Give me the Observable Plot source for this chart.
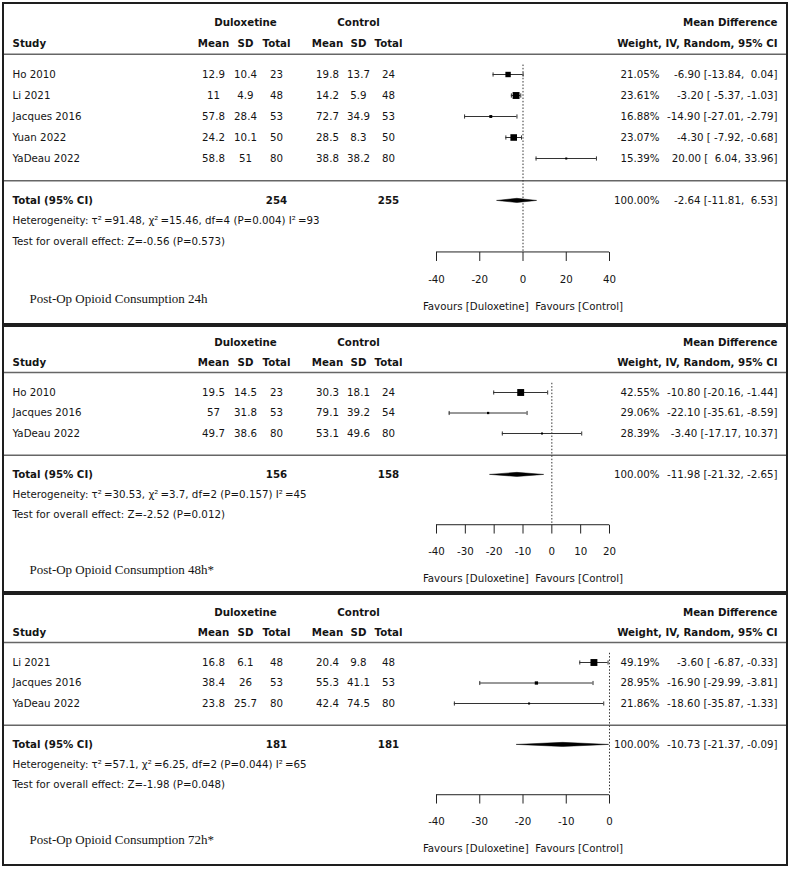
<!DOCTYPE html>
<html><head><meta charset="utf-8">
<script src="https://cdn.jsdelivr.net/npm/d3@7"></script>
<script src="https://cdn.jsdelivr.net/npm/@observablehq/plot@0.6"></script>
<style>
body{margin:0;background:#fff;}
.panel{position:absolute;left:2px;width:782px;border:2px solid #1e1e1e;background:#fff;overflow:hidden;}
.panel svg{display:block;}
.panel svg text{white-space:pre;}
</style></head><body>
<div id="p1" class="panel" style="top:2px;height:319px"></div>
<div id="p2" class="panel" style="top:325px;height:264px"></div>
<div id="p3" class="panel" style="top:593px;height:269px"></div>
<script>
// ---------- Panel 1: 24h ----------
const studies24 = ["Ho 2010", "Li 2021", "Jacques 2016", "Yuan 2022", "YaDeau 2022"];
const duloxMean24 = [12.9, 11, 57.8, 24.2, 58.8];
const duloxSD24 = [10.4, 4.9, 28.4, 10.1, 51];
const duloxN24 = [23, 48, 53, 50, 80];
const ctrlMean24 = [19.8, 14.2, 72.7, 28.5, 38.8];
const ctrlSD24 = [13.7, 5.9, 34.9, 8.3, 38.2];
const ctrlN24 = [24, 48, 53, 50, 80];
const weight24 = [21.05, 23.61, 16.88, 23.07, 15.39];
const md24 = [-6.90, -3.20, -14.90, -4.30, 20.00];
const lo24 = [-13.84, -5.37, -27.01, -7.92, 6.04];
const hi24 = [0.04, -1.03, -2.79, -0.68, 33.96];
const totalN24 = [254, 255];
const totalMD24 = [-2.64, -11.81, 6.53];
const het24 = ["91.48", "15.46", "4", "0.004", "93"];
const effect24 = ["-0.56", "0.573"];
const ticks24 = [-40, -20, 0, 20, 40];
const title24 = "Post-Op Opioid Consumption 24h";

// ---------- Panel 2: 48h ----------
const studies48 = ["Ho 2010", "Jacques 2016", "YaDeau 2022"];
const duloxMean48 = [19.5, 57, 49.7];
const duloxSD48 = [14.5, 31.8, 38.6];
const duloxN48 = [23, 53, 80];
const ctrlMean48 = [30.3, 79.1, 53.1];
const ctrlSD48 = [18.1, 39.2, 49.6];
const ctrlN48 = [24, 54, 80];
const weight48 = [42.55, 29.06, 28.39];
const md48 = [-10.80, -22.10, -3.40];
const lo48 = [-20.16, -35.61, -17.17];
const hi48 = [-1.44, -8.59, 10.37];
const totalN48 = [156, 158];
const totalMD48 = [-11.98, -21.32, -2.65];
const het48 = ["30.53", "3.7", "2", "0.157", "45"];
const effect48 = ["-2.52", "0.012"];
const ticks48 = [-40, -30, -20, -10, 0, 10, 20];
const title48 = "Post-Op Opioid Consumption 48h*";

// ---------- Panel 3: 72h ----------
const studies72 = ["Li 2021", "Jacques 2016", "YaDeau 2022"];
const duloxMean72 = [16.8, 38.4, 23.8];
const duloxSD72 = [6.1, 26, 25.7];
const duloxN72 = [48, 53, 80];
const ctrlMean72 = [20.4, 55.3, 42.4];
const ctrlSD72 = [9.8, 41.1, 74.5];
const ctrlN72 = [48, 53, 80];
const weight72 = [49.19, 28.95, 21.86];
const md72 = [-3.60, -16.90, -18.60];
const lo72 = [-6.87, -29.99, -35.87];
const hi72 = [-0.33, -3.81, -1.33];
const totalN72 = [181, 181];
const totalMD72 = [-10.73, -21.37, -0.09];
const het72 = ["57.1", "6.25", "2", "0.044", "65"];
const effect72 = ["-1.98", "0.048"];
const ticks72 = [-40, -30, -20, -10, 0];
const title72 = "Post-Op Opioid Consumption 72h*";

// ---------- drawing ----------
const W = 782, ML = 432, MR = 177;
const FS = 10.25, FONT = "DejaVu Sans";
const COL = {study: 8, dMean: 209, dSD: 241, dTot: 272, cMean: 323, cSD: 354, cTot: 384, weight: 655, md: 773};

function drawPanel(el, c) {
  const n = c.studies.length, last = n - 1;
  const fmt = v => v.toFixed(2);
  const loW = d3.max([...c.lo, c.totMD[1]], v => fmt(v).length);
  const hiW = d3.max([...c.hi, c.totMD[2]], v => fmt(v).length);
  const mdText = (m, l, h) => `${fmt(m)} [${fmt(l).padStart(loW)}, ${fmt(h).padStart(hiW)}]`;
  const rows = c.studies.map((study, i) => ({
    study, i, dm: c.dm[i], dsd: c.dsd[i], dn: c.dn[i], cm: c.cm[i], csd: c.csd[i], cn: c.cn[i],
    w: c.w[i], md: c.md[i], lo: c.lo[i], hi: c.hi[i]
  }));
  const Y = {dulox: -2.45, head: -1.45, sep1: -0.97, dotTop: -0.45, sep2: last + 1.06, total: last + 2.02,
    het: last + 2.98, test: last + 3.95, axis: last + 4.45, tickLab: last + 5.77, title: last + 6.66, fav: last + 7.06};
  const at = (px, anchor) => ({frameAnchor: "left", dx: px - ML, textAnchor: anchor});
  const T = (data, o) => Plot.text(data, {fontSize: FS, fill: "#141414", ...o});
  const B = {fontWeight: "bold"};
  const [tMd, tLo, tHi] = c.totMD;
  const diamond = [{x: tLo, y1: Y.total, y2: Y.total}, {x: tMd, y1: Y.total - 0.1, y2: Y.total + 0.1}, {x: tHi, y1: Y.total, y2: Y.total}];
  const [xmin, xmax] = d3.extent(c.ticks);
  const sq = "\u00b2\u2009";

  const plot = Plot.plot({
    width: W, height: c.H,
    marginLeft: ML, marginRight: MR, marginTop: 0, marginBottom: 0,
    style: {fontFamily: FONT, fontSize: FS + "px", background: "#fff", overflow: "visible"},
    x: {domain: [xmin, xmax], axis: null},
    y: {type: "linear", domain: [-c.firstRow / c.rowPx, (c.H - c.firstRow) / c.rowPx], range: [0, c.H], axis: null},
    r: {type: "linear", domain: d3.extent(c.w), range: [1.15, 3.9]},
    marks: [
      // separators
      Plot.ruleY([Y.sep1, Y.sep2], {y: d => d, stroke: "#666", strokeWidth: 1.5, insetLeft: -ML, insetRight: -MR}),
      // header
      T(["Duloxetine"], {y: Y.dulox, ...at(COL.dSD, "middle"), ...B}),
      T(["Control"], {y: Y.dulox, ...at(COL.cSD, "middle"), ...B}),
      T(["Mean Difference"], {y: Y.dulox, ...at(COL.md, "end"), ...B}),
      T(["Study"], {y: Y.head, ...at(COL.study, "start"), ...B}),
      T(["Mean"], {y: Y.head, ...at(COL.dMean, "middle"), ...B}),
      T(["SD"], {y: Y.head, ...at(COL.dSD, "middle"), ...B}),
      T(["Total"], {y: Y.head, ...at(COL.dTot, "middle"), ...B}),
      T(["Mean"], {y: Y.head, ...at(COL.cMean, "middle"), ...B}),
      T(["SD"], {y: Y.head, ...at(COL.cSD, "middle"), ...B}),
      T(["Total"], {y: Y.head, ...at(COL.cTot, "middle"), ...B}),
      T(["Weight, IV, Random, 95% CI"], {y: Y.head, ...at(COL.md, "end"), ...B}),
      // study rows
      T(rows, {y: "i", text: "study", ...at(COL.study, "start")}),
      T(rows, {y: "i", text: d => String(d.dm), ...at(COL.dMean, "middle")}),
      T(rows, {y: "i", text: d => String(d.dsd), ...at(COL.dSD, "middle")}),
      T(rows, {y: "i", text: d => String(d.dn), ...at(COL.dTot, "middle")}),
      T(rows, {y: "i", text: d => String(d.cm), ...at(COL.cMean, "middle")}),
      T(rows, {y: "i", text: d => String(d.csd), ...at(COL.cSD, "middle")}),
      T(rows, {y: "i", text: d => String(d.cn), ...at(COL.cTot, "middle")}),
      T(rows, {y: "i", text: d => d.w.toFixed(2) + "%", ...at(COL.weight, "end")}),
      T(rows, {y: "i", text: d => mdText(d.md, d.lo, d.hi), ...at(COL.md, "end")}),
      // total rows
      T(["Total (95% CI)"], {y: Y.total, ...at(COL.study, "start"), ...B}),
      T([String(c.totN[0])], {y: Y.total, ...at(COL.dTot, "middle"), ...B}),
      T([String(c.totN[1])], {y: Y.total, ...at(COL.cTot, "middle"), ...B}),
      T(["100.00%"], {y: Y.total, ...at(COL.weight, "end")}),
      T([mdText(tMd, tLo, tHi)], {y: Y.total, ...at(COL.md, "end")}),
      T([`Heterogeneity: \u03c4${sq}=${c.het[0]}, \u03c7${sq}=${c.het[1]}, df=${c.het[2]} (P=${c.het[3]}) I${sq}=${c.het[4]}`], {y: Y.het, ...at(COL.study, "start")}),
      T([`Test for overall effect: Z=${c.eff[0]} (P=${c.eff[1]})`], {y: Y.test, ...at(COL.study, "start")}),
      T([c.title], {y: Y.title, ...at(25, "start"), fontFamily: "Liberation Serif", fontSize: 13}),
      // zero line
      Plot.ruleX([0], {x: d => d, y1: Y.dotTop, y2: Y.axis, stroke: "#333", strokeWidth: 1, strokeDasharray: "1.5,1.8"}),
      // CIs
      Plot.ruleY(rows, {x1: "lo", x2: "hi", y: "i", stroke: "#333", strokeWidth: 1}),
      Plot.link(rows, {x1: "lo", x2: "lo", y1: d => d.i - 0.1, y2: d => d.i + 0.1, stroke: "#333", strokeWidth: 1}),
      Plot.link(rows, {x1: "hi", x2: "hi", y1: d => d.i - 0.1, y2: d => d.i + 0.1, stroke: "#333", strokeWidth: 1}),
      Plot.dot(rows, {x: "md", y: "i", r: "w", symbol: "square", fill: "#000", stroke: "none"}),
      // pooled diamond
      Plot.areaY(diamond, {x: "x", y1: "y1", y2: "y2", fill: "#000", stroke: "#000", strokeWidth: 0.5}),
      // axis
      Plot.ruleY([Y.axis], {y: d => d, x1: xmin, x2: xmax, stroke: "#222", strokeWidth: 1}),
      Plot.link(c.ticks, {x1: d => d, x2: d => d, y1: Y.axis, y2: Y.axis + 0.43, stroke: "#222", strokeWidth: 1}),
      T(c.ticks, {x: d => d, y: Y.tickLab, text: d => String(d), textAnchor: "middle"}),
      T(["Favours [Duloxetine]  Favours [Control]"], {x: (xmin + xmax) / 2, y: Y.fav, textAnchor: "middle"})
    ]
  });
  document.getElementById(el).appendChild(plot);
}

drawPanel("p1", {studies: studies24, dm: duloxMean24, dsd: duloxSD24, dn: duloxN24, cm: ctrlMean24, csd: ctrlSD24, cn: ctrlN24,
  w: weight24, md: md24, lo: lo24, hi: hi24, totN: totalN24, totMD: totalMD24, het: het24, eff: effect24, ticks: ticks24, title: title24,
  H: 319, firstRow: 70, rowPx: 21});
drawPanel("p2", {studies: studies48, dm: duloxMean48, dsd: duloxSD48, dn: duloxN48, cm: ctrlMean48, csd: ctrlSD48, cn: ctrlN48,
  w: weight48, md: md48, lo: lo48, hi: hi48, totN: totalN48, totMD: totalMD48, het: het48, eff: effect48, ticks: ticks48, title: title48,
  H: 264, firstRow: 65, rowPx: 20.5});
drawPanel("p3", {studies: studies72, dm: duloxMean72, dsd: duloxSD72, dn: duloxN72, cm: ctrlMean72, csd: ctrlSD72, cn: ctrlN72,
  w: weight72, md: md72, lo: lo72, hi: hi72, totN: totalN72, totMD: totalMD72, het: het72, eff: effect72, ticks: ticks72, title: title72,
  H: 269, firstRow: 67, rowPx: 20.5});
</script>
</body></html>
